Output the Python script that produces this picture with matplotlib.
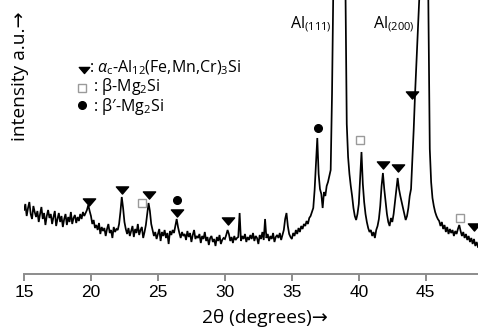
import numpy as np
import matplotlib
matplotlib.use('Agg')
import matplotlib.pyplot as plt
from matplotlib.path import Path

plt.rcParams['mathtext.fontset'] = 'custom'
plt.rcParams['mathtext.rm'] = 'Open Sans'
plt.rcParams['mathtext.it'] = 'Open Sans:italic'
plt.rcParams['mathtext.bf'] = 'Open Sans:bold'

# XRD trace, every 0.1 deg (2theta 15.0 ... 48.9), arbitrary units
counts_15_20 = [64, 70, 58, 66, 72, 60, 55, 68, 62, 57,
                63, 52, 60, 67, 55, 61, 49, 58, 64, 56,
                60, 50, 57, 63, 48, 55, 61, 52, 58, 47,
                55, 60, 49, 57, 52, 62, 50, 56, 59, 51,
                57, 53, 60, 55, 62, 58, 61, 64, 69, 63]
counts_20_25 = [58, 50, 54, 46, 49, 44, 51, 40, 47, 43,
                46, 38, 45, 50, 41, 44, 36, 47, 42, 45,
                44, 50, 62, 77, 66, 52, 45, 40, 46, 38,
                43, 48, 37, 45, 41, 50, 39, 44, 47, 36,
                42, 49, 60, 71, 63, 50, 44, 38, 42, 35]
counts_25_30 = [40, 45, 33, 42, 38, 44, 36, 41, 30, 43,
                39, 44, 41, 48, 55, 47, 41, 36, 42, 38,
                40, 34, 43, 37, 41, 32, 39, 44, 35, 38,
                36, 40, 31, 38, 35, 42, 33, 37, 29, 36,
                38, 32, 35, 28, 37, 33, 39, 30, 34, 36]
counts_30_35 = [35, 39, 44, 40, 33, 37, 31, 38, 34, 36,
                37, 61, 33, 38, 35, 40, 32, 37, 34, 39,
                35, 41, 33, 38, 36, 30, 39, 35, 42, 34,
                55, 36, 40, 33, 38, 35, 41, 32, 37, 39,
                36, 41, 34, 39, 44, 55, 61, 48, 40, 37]
counts_35_40 = [35, 41, 38, 44, 40, 46, 42, 48, 45, 50,
                48, 53, 50, 56, 58, 62, 66, 84, 110, 136,
                100, 85, 80, 66, 82, 78, 88, 92, 98, 104,
                180, 290, 600, 1200, 2000, 2400, 2000, 1200, 600, 380,
                290, 150, 117, 100, 88, 78, 66, 58, 54, 60]
counts_40_45 = [70, 95, 122, 90, 72, 60, 52, 46, 42, 44,
                38, 42, 36, 44, 48, 55, 68, 88, 101, 85,
                72, 60, 52, 48, 56, 52, 60, 72, 85, 96,
                85, 78, 72, 66, 60, 54, 58, 66, 78, 85,
                115, 145, 180, 210, 240, 268, 320, 700, 1400, 1500]
counts_45_49 = [900, 420, 260, 125, 92, 76, 68, 62, 58, 55,
                53, 48, 52, 45, 49, 42, 47, 40, 45, 41,
                44, 38, 43, 40, 45, 49, 43, 38, 42, 36,
                40, 34, 38, 32, 36, 30, 35, 28, 32, 27]

# phase markers (2theta, height)
alpha_x = [19.85, 22.31, 24.33, 26.42, 30.22, 41.79, 42.91, 43.96, 48.58]
alpha_y = [72, 84, 79, 61, 53, 109, 106, 179, 47]
beta_x = [23.81, 40.07, 47.54]
beta_y = [71, 134, 56]
betap_x = [26.42, 36.94]
betap_y = [74, 146]

xticks = [15, 20, 25, 30, 35, 40, 45]

counts = np.array(counts_15_20 + counts_20_25 + counts_25_30 + counts_30_35
                  + counts_35_40 + counts_40_45 + counts_45_49, dtype=float)
two_theta = np.round(15.0 + 0.1 * np.arange(len(counts)), 1)

W, H = 478, 329
fig = plt.figure(figsize=(W / 100, H / 100), dpi=100)
ax = fig.add_axes([24 / W, 55 / H, 1 - 24 / W, 274 / H])

ax.plot(two_theta, counts, color='black', lw=1.25, solid_joinstyle='miter')

tri = Path([(-6, 3.5), (6, 3.5), (0, -3.5), (-6, 3.5)],
           [Path.MOVETO, Path.LINETO, Path.LINETO, Path.CLOSEPOLY])
ax.plot(alpha_x, alpha_y, ls='none', marker=tri, ms=8.8, color='black')
ax.plot(beta_x, beta_y, ls='none', marker='s', ms=6.3, mfc='white',
        mec='#9a9a9a', mew=1.0)
ax.plot(betap_x, betap_y, ls='none', marker='o', ms=5.5, color='black')

ax.set_xlim(15, 48.9)
ax.set_ylim(0, 274)
for s in ['top', 'left', 'right']:
    ax.spines[s].set_visible(False)
ax.spines['bottom'].set_color('#8c8c8c')
ax.spines['bottom'].set_linewidth(1.4)
ax.set_yticks([])
ax.set_xticks(xticks)
ax.tick_params(axis='x', direction='out', length=5, width=1.4, color='#8c8c8c',
               labelsize=12.5, pad=3)
for lab in ax.get_xticklabels():
    lab.set_family(['Liberation Sans', 'DejaVu Sans'])
ax.patch.set_alpha(0)

ax.text(38.0, 246, 'Al$_{(111)}$', ha='right', va='baseline', fontsize=11.5,
        family='Open Sans')
ax.text(44.15, 246, 'Al$_{(200)}$', ha='right', va='baseline', fontsize=11.5,
        family='Open Sans')

fig.text(20 / W, 1 - 76 / H, 'intensity a.u.\u2192', rotation=90, ha='center',
         va='center', fontsize=13.8, family=['Open Sans', 'DejaVu Sans'])
fig.text(265 / W, 1 - 318 / H, '2\u03b8 (degrees)\u2192', ha='center',
         va='center', fontsize=13.8, family=['Open Sans', 'DejaVu Sans'])

# legend drawn by hand
fig.lines.append(plt.Line2D([84 / W], [1 - 70 / H], ls='none', marker=tri,
                            ms=7.5, color='black', transform=fig.transFigure))
fig.lines.append(plt.Line2D([82 / W], [1 - 88 / H], ls='none', marker='s',
                            ms=6.3, mfc='white', mec='#9a9a9a', mew=1.0,
                            transform=fig.transFigure))
fig.lines.append(plt.Line2D([82 / W], [1 - 105 / H], ls='none', marker='o',
                            ms=5.5, color='black', transform=fig.transFigure))
leg_texts = [': $\\alpha_\\mathrm{c}$-Al$_{12}$(Fe,Mn,Cr)$_{3}$Si',
             ' : \u03b2-Mg$_{2}$Si',
             ' : \u03b2\u2032-Mg$_{2}$Si']
fig.text(89 / W, 1 - 88 / H, '\n'.join(leg_texts), ha='left', va='center',
         fontsize=11.5, family='Open Sans', linespacing=0.95)

fig.savefig('out.png', dpi=100)
